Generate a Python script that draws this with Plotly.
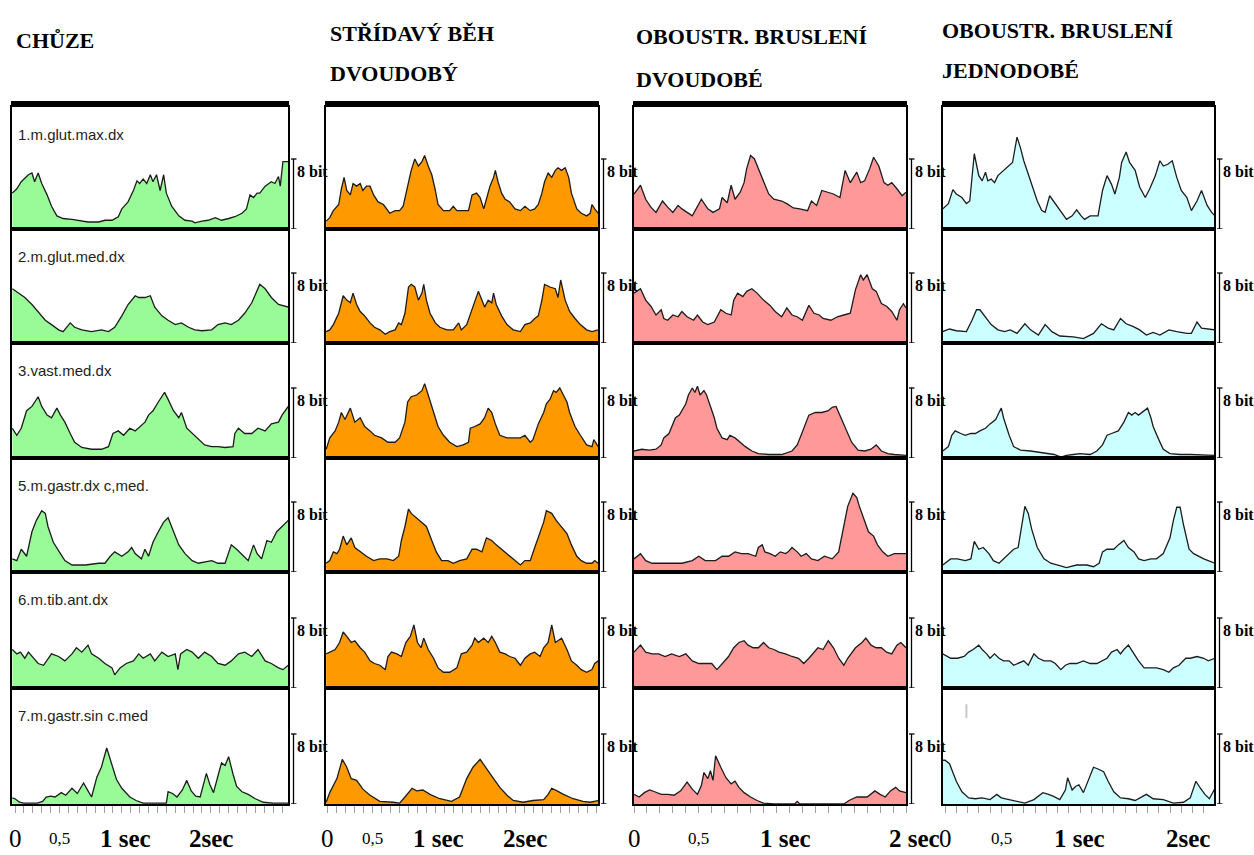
import plotly.graph_objects as go

# ---------------- text ----------------
col_titles = [["CHŮZE"], ["STŘÍDAVÝ BĚH", "DVOUDOBÝ"],
              ["OBOUSTR. BRUSLENÍ", "DVOUDOBÉ"], ["OBOUSTR. BRUSLENÍ", "JEDNODOBÉ"]]
muscles = ["1.m.glut.max.dx", "2.m.glut.med.dx", "3.vast.med.dx",
           "5.m.gastr.dx c,med.", "6.m.tib.ant.dx", "7.m.gastr.sin c.med"]
tick_vals = [0, 0.5, 1, 2]
tick_text = [["0", "0,5", "1 sec", "2sec"], ["0", "0,5", "1 sec", "2sec"],
             ["0", "0,5", "1 sec", "2 sec"], ["0", "0,5", "1 sec", "2sec"]]
scale_label = "8 bit"
scale_value = 8
fill_colors = ["#98fb98", "#ff9900", "#ff9999", "#ccffff"]

# ---------------- data: time [s] / amplitude [scale units, bar = 8] ----------------
# column 1: CHŮZE
walk_t1 = [-0.03,0.02,0.07,0.15,0.19,0.22,0.26,0.30,0.36,0.41,0.47,0.54,0.64,0.71,0.82,0.94,1.01,1.09,1.16,1.20,1.27,1.33,1.37,1.40,1.44,1.48,1.52,1.55,1.59,1.63,1.67,1.70,1.76,1.84,1.91,1.99,2.02,2.10,2.17,2.25,2.32,2.40,2.47,2.55,2.60,2.64,2.68,2.72,2.75,2.81,2.85,2.88,2.92,2.96,2.98,3.01,3.07]
walk_v1 = [4.1,4.6,5.4,6.2,6.4,5.4,6.4,5.2,3.9,2.6,1.5,1.2,1.1,1.0,0.8,0.8,1.0,1.0,1.4,2.3,3.1,4.4,5.5,5.2,5.7,5.2,6.2,5.4,6.2,4.4,6.2,4.1,2.6,1.5,1.0,0.9,0.7,0.9,1.0,1.3,1.0,1.2,1.4,1.8,2.3,3.9,3.6,4.1,4.1,4.9,5.2,5.4,5.2,6.0,4.9,7.7,7.7]
walk_t2 = [-0.03,0.04,0.11,0.19,0.26,0.34,0.41,0.49,0.54,0.62,0.67,0.75,0.86,0.97,1.05,1.12,1.20,1.27,1.35,1.39,1.46,1.52,1.57,1.65,1.72,1.80,1.87,1.95,2.02,2.10,2.21,2.28,2.36,2.43,2.51,2.58,2.66,2.72,2.75,2.81,2.88,2.96,3.07]
walk_v2 = [6.2,5.7,5.2,4.4,3.6,2.6,2.1,1.5,1.3,2.3,1.8,1.5,1.3,1.5,1.3,1.8,3.1,4.4,5.4,5.2,5.2,5.4,4.1,3.1,2.6,2.1,2.3,1.8,1.5,1.4,1.5,2.1,2.3,2.1,2.6,3.4,4.6,5.9,6.7,6.2,5.2,4.4,4.1]
walk_t3 = [-0.03,0.02,0.07,0.13,0.19,0.24,0.26,0.30,0.36,0.41,0.45,0.47,0.51,0.56,0.62,0.67,0.75,0.86,0.97,1.05,1.10,1.16,1.22,1.29,1.35,1.40,1.46,1.50,1.55,1.61,1.68,1.72,1.78,1.84,1.87,1.93,1.99,2.06,2.13,2.21,2.28,2.36,2.45,2.47,2.51,2.58,2.66,2.73,2.81,2.88,2.96,3.00,3.07]
walk_v3 = [3.4,2.6,3.4,5.4,5.9,6.7,7.0,5.9,4.9,4.6,5.4,5.7,4.9,4.1,2.8,1.8,1.2,1.0,1.0,1.3,2.8,3.1,2.6,3.4,3.1,3.6,4.1,4.9,5.4,6.4,7.5,6.7,5.4,4.6,5.2,3.4,2.8,2.1,1.5,1.3,1.3,1.2,1.3,2.8,3.4,2.8,2.8,3.4,3.1,3.9,4.1,4.9,5.9]
walk_t4 = [-0.03,0.02,0.07,0.13,0.19,0.24,0.30,0.34,0.37,0.43,0.51,0.56,0.64,0.79,0.94,1.01,1.07,1.12,1.20,1.27,1.31,1.35,1.42,1.46,1.50,1.55,1.61,1.67,1.72,1.78,1.84,1.91,1.99,2.06,2.21,2.28,2.36,2.43,2.49,2.57,2.62,2.68,2.72,2.77,2.83,2.88,2.94,3.00,3.07]
walk_v4 = [1.5,1.3,2.6,1.8,4.6,5.9,7.0,6.7,5.2,3.4,2.1,1.3,0.8,0.8,1.0,1.0,1.8,2.3,1.8,2.3,2.8,2.1,1.5,2.6,1.8,3.4,4.6,5.7,6.2,4.6,3.1,2.1,1.3,1.0,1.3,1.0,1.0,3.1,2.6,1.8,1.3,3.1,2.1,1.5,3.6,3.4,4.6,5.2,5.9]
walk_t5 = [-0.03,0.02,0.06,0.11,0.15,0.21,0.26,0.32,0.41,0.49,0.56,0.64,0.69,0.75,0.82,0.86,0.94,1.01,1.09,1.12,1.18,1.25,1.33,1.39,1.44,1.52,1.57,1.65,1.72,1.80,1.83,1.86,1.93,1.99,2.06,2.13,2.21,2.28,2.36,2.43,2.51,2.58,2.66,2.73,2.81,2.88,2.96,3.01,3.07]
walk_v5 = [4.4,3.9,4.1,3.4,4.1,3.4,2.8,2.6,3.9,3.6,3.1,3.9,4.6,4.1,4.9,3.9,3.4,2.8,2.3,1.5,2.3,2.8,3.1,3.9,3.4,3.9,3.1,4.1,3.6,3.9,2.1,3.9,4.4,4.1,3.4,4.1,3.6,2.8,2.6,3.1,3.9,4.1,3.6,4.4,3.1,2.8,2.3,2.1,2.6]
walk_t6 = [-0.03,0.00,0.05,0.10,0.25,0.31,0.35,0.40,0.45,0.52,0.57,0.64,0.70,0.77,0.82,0.86,0.92,0.97,1.03,1.08,1.14,1.20,1.29,1.36,1.44,1.70,1.72,1.77,1.82,1.88,1.93,1.98,2.03,2.08,2.15,2.19,2.23,2.28,2.32,2.36,2.40,2.45,2.49,2.55,2.62,2.70,2.79,2.90,3.07]
walk_v6 = [0.7,0.6,0.2,0.1,0.1,0.3,0.8,0.9,0.8,1.3,1.0,1.8,1.2,2.4,1.5,0.8,3.1,4.2,6.4,4.8,2.8,1.8,0.8,0.4,0.1,0.1,1.4,1.2,0.8,1.6,2.7,1.5,0.9,0.8,3.5,2.2,1.3,3.2,4.7,4.4,5.4,3.4,2.0,1.4,1.1,0.6,0.2,0.1,0.1]

# column 2: STŘÍDAVÝ BĚH DVOUDOBÝ
run_t1 = [-0.02,0.02,0.06,0.12,0.15,0.18,0.21,0.25,0.28,0.32,0.36,0.39,0.43,0.47,0.51,0.56,0.62,0.69,0.75,0.80,0.84,0.88,0.91,0.93,0.97,1.01,1.05,1.08,1.12,1.16,1.20,1.23,1.29,1.36,1.40,1.44,1.51,1.57,1.61,1.66,1.70,1.74,1.77,1.81,1.85,1.87,1.90,1.94,1.98,2.03,2.09,2.15,2.20,2.26,2.31,2.35,2.39,2.42,2.46,2.50,2.54,2.57,2.61,2.65,2.69,2.72,2.78,2.83,2.89,2.93,2.95,2.98,3.02]
run_v1 = [0.9,1.3,2.1,2.8,4.6,5.9,4.4,3.9,5.2,4.9,5.2,4.4,4.9,4.9,3.9,3.1,2.8,1.8,2.1,2.1,2.6,4.6,5.9,6.7,8.0,7.2,7.7,8.4,7.2,6.2,4.4,2.8,2.1,2.1,2.6,2.1,2.1,2.1,3.9,4.1,3.6,2.3,3.4,4.9,5.9,6.7,5.4,4.1,3.4,3.1,2.3,2.1,2.6,2.1,2.3,2.8,4.1,5.4,6.4,5.9,6.7,7.0,6.7,7.0,5.9,4.1,2.3,1.8,1.5,1.8,2.8,2.3,1.8]
run_t2 = [-0.02,0.02,0.06,0.12,0.17,0.21,0.25,0.28,0.32,0.36,0.41,0.47,0.52,0.58,0.64,0.69,0.75,0.79,0.82,0.86,0.90,0.93,0.97,1.01,1.05,1.07,1.10,1.14,1.20,1.25,1.33,1.40,1.46,1.49,1.55,1.61,1.64,1.68,1.72,1.75,1.79,1.83,1.85,1.88,1.94,2.00,2.07,2.15,2.20,2.26,2.31,2.35,2.39,2.42,2.48,2.54,2.57,2.60,2.65,2.70,2.76,2.82,2.89,2.95,3.02]
run_v2 = [1.3,1.5,2.1,3.4,5.4,4.9,4.6,5.7,4.4,3.6,3.1,2.3,1.8,1.5,1.0,1.3,1.5,2.3,2.1,3.4,6.4,6.7,6.4,4.9,5.7,6.7,4.9,3.4,2.3,1.8,1.5,1.5,2.3,1.5,2.1,3.9,4.6,5.9,4.9,4.1,4.9,4.6,5.7,4.4,3.1,2.1,1.5,1.3,2.1,2.3,2.8,3.1,4.9,6.7,6.4,6.2,5.2,7.2,4.9,3.6,2.8,2.1,1.5,1.3,1.5]
run_t3 = [-0.02,0.02,0.08,0.12,0.15,0.19,0.25,0.30,0.36,0.41,0.47,0.52,0.60,0.67,0.75,0.80,0.86,0.89,0.93,0.99,1.05,1.08,1.12,1.18,1.23,1.29,1.36,1.44,1.51,1.57,1.59,1.64,1.70,1.75,1.79,1.83,1.87,1.92,2.00,2.07,2.15,2.20,2.26,2.29,2.35,2.41,2.44,2.48,2.52,2.55,2.59,2.63,2.67,2.70,2.76,2.82,2.89,2.95,2.97,3.02]
run_v3 = [1.0,2.3,3.1,4.1,5.2,4.4,5.7,4.1,4.6,3.6,3.1,2.6,2.3,1.8,1.8,2.3,4.1,6.4,7.0,7.2,7.7,8.5,7.2,5.2,3.6,2.6,1.8,1.3,1.5,1.8,3.4,3.6,3.9,4.6,5.7,5.2,3.9,2.6,2.3,2.3,2.3,2.6,1.8,2.1,3.9,5.2,6.2,6.7,7.7,7.5,8.0,7.2,6.4,5.2,3.6,2.6,1.5,1.3,2.1,1.3]
run_t4 = [-0.02,0.02,0.06,0.10,0.13,0.17,0.21,0.26,0.30,0.36,0.43,0.51,0.58,0.66,0.73,0.79,0.82,0.86,0.90,0.93,0.99,1.05,1.10,1.16,1.21,1.27,1.34,1.40,1.47,1.55,1.61,1.66,1.72,1.77,1.83,1.88,1.94,2.00,2.07,2.15,2.20,2.26,2.31,2.37,2.41,2.44,2.50,2.55,2.61,2.67,2.72,2.78,2.83,2.89,2.95,2.98,3.02]
run_v4 = [1.0,1.3,2.3,2.1,2.6,4.1,3.1,3.9,2.8,2.3,1.8,1.3,1.5,1.5,1.3,1.8,3.6,5.2,7.2,6.7,6.2,5.7,5.2,3.6,2.3,1.3,1.3,1.0,1.3,1.5,2.6,2.6,2.3,3.9,3.6,3.1,2.6,2.1,1.5,0.8,1.3,1.3,2.8,4.4,5.7,7.0,6.7,5.9,5.2,4.4,3.1,1.8,1.3,1.0,1.0,1.3,1.0]
run_t5 = [-0.02,0.02,0.08,0.13,0.17,0.21,0.26,0.30,0.36,0.41,0.47,0.52,0.58,0.64,0.67,0.71,0.77,0.82,0.87,0.92,0.96,1.00,1.04,1.07,1.12,1.18,1.23,1.29,1.36,1.44,1.49,1.55,1.61,1.64,1.68,1.74,1.79,1.83,1.87,1.92,1.98,2.03,2.09,2.15,2.20,2.26,2.31,2.37,2.41,2.46,2.50,2.54,2.57,2.61,2.67,2.72,2.78,2.83,2.89,2.95,2.98,3.02]
run_v5 = [3.9,4.1,4.4,5.2,6.4,5.9,5.2,5.4,4.6,4.1,3.1,2.8,2.6,2.1,3.6,4.1,3.9,3.6,5.2,5.9,7.2,5.2,4.6,5.7,4.4,3.4,2.3,1.8,1.8,2.3,3.9,4.1,4.9,5.7,5.2,5.7,5.2,5.9,5.2,4.1,3.9,3.6,3.4,2.6,3.4,3.9,4.1,3.6,4.6,5.2,7.2,5.2,5.4,5.7,4.4,3.1,2.6,2.1,1.8,2.1,2.8,3.1]
run_t6 = [-0.02,0.02,0.10,0.16,0.21,0.26,0.32,0.39,0.47,0.58,0.73,0.80,0.86,0.94,0.99,1.06,1.14,1.25,1.38,1.47,1.55,1.62,1.70,1.77,1.85,1.92,2.00,2.07,2.18,2.29,2.41,2.46,2.50,2.56,2.63,2.74,2.85,2.93,3.02]
run_v6 = [0.2,1.3,2.9,5.1,4.2,2.9,2.7,1.7,1.0,0.3,0.2,0.1,0.8,1.8,1.5,1.6,1.1,0.6,0.3,0.8,2.9,4.2,5.1,4.0,2.9,1.9,1.0,0.4,0.2,0.4,0.5,1.1,1.8,1.5,1.1,0.6,0.3,0.2,0.4]

# column 3: OBOUSTR. BRUSLENÍ DVOUDOBÉ
sk2_t1 = [0.0,0.05,0.09,0.13,0.17,0.22,0.26,0.30,0.34,0.37,0.41,0.45,0.52,0.57,0.61,0.66,0.68,0.72,0.75,0.78,0.82,0.85,0.87,0.90,0.93,0.96,1.00,1.04,1.08,1.14,1.18,1.23,1.28,1.34,1.37,1.41,1.45,1.49,1.54,1.59,1.63,1.67,1.72,1.75,1.78,1.82,1.85,1.89,1.93,1.96,1.99,2.03,2.07,2.10]
sk2_v1 = [4.0,5.0,3.4,2.5,1.9,3.2,2.5,1.9,2.7,2.3,1.9,1.5,3.4,2.3,1.9,2.3,3.6,3.0,5.0,3.4,4.2,5.3,6.9,8.4,8.0,6.9,5.3,4.0,3.4,3.2,2.9,2.4,2.3,2.1,3.2,2.7,4.4,4.2,4.0,3.6,6.7,5.3,6.5,5.3,5.5,6.9,8.2,7.2,5.3,5.0,5.3,4.6,3.8,4.2]
sk2_t2 = [0.0,0.05,0.09,0.13,0.17,0.21,0.23,0.26,0.30,0.34,0.37,0.41,0.46,0.49,0.53,0.57,0.62,0.67,0.71,0.75,0.77,0.80,0.84,0.87,0.91,0.95,1.00,1.05,1.09,1.14,1.18,1.22,1.26,1.30,1.35,1.39,1.43,1.46,1.52,1.57,1.62,1.67,1.71,1.75,1.77,1.80,1.84,1.87,1.91,1.95,1.99,2.03,2.05,2.08,2.10]
sk2_v2 = [5.7,6.2,4.9,4.2,3.2,3.8,2.8,2.6,3.2,3.0,3.6,3.0,2.6,3.2,2.4,2.1,2.4,3.8,3.4,3.2,4.9,5.7,5.3,5.9,6.2,5.7,4.9,4.3,3.6,3.0,4.0,3.2,3.0,2.6,4.3,3.4,3.2,2.8,2.6,3.0,3.2,3.4,6.1,7.8,7.2,7.8,6.2,5.9,4.5,4.2,3.6,2.6,3.8,4.5,4.0]
sk2_t3 = [0.0,0.06,0.12,0.17,0.21,0.23,0.27,0.29,0.32,0.35,0.37,0.40,0.42,0.45,0.47,0.49,0.51,0.54,0.56,0.59,0.62,0.64,0.68,0.72,0.74,0.78,0.82,0.86,0.91,0.96,1.04,1.14,1.22,1.26,1.29,1.35,1.40,1.45,1.50,1.53,1.56,1.60,1.64,1.68,1.73,1.78,1.83,1.87,1.91,1.96,2.01,2.10]
sk2_v3 = [0.8,1.0,0.9,1.0,1.5,2.3,2.8,3.6,4.6,4.9,5.4,6.2,7.2,8.0,7.5,8.2,7.2,7.7,7.2,5.9,4.6,3.4,2.3,2.1,2.6,2.3,1.8,1.3,0.8,0.5,0.4,0.4,0.8,1.5,2.6,4.9,5.2,5.2,5.4,5.8,5.9,4.6,3.1,1.8,0.9,0.8,1.0,1.5,0.8,0.5,0.4,0.3]
sk2_t4 = [0.0,0.05,0.09,0.14,0.22,0.29,0.37,0.45,0.50,0.55,0.63,0.68,0.73,0.78,0.83,0.88,0.94,0.96,0.99,1.01,1.05,1.09,1.13,1.17,1.19,1.22,1.26,1.29,1.33,1.37,1.42,1.47,1.53,1.58,1.62,1.65,1.69,1.72,1.74,1.77,1.81,1.85,1.88,1.92,1.96,2.01,2.05,2.10]
sk2_v4 = [1.5,2.1,1.3,1.0,1.0,1.0,1.0,1.3,1.8,1.3,1.3,1.8,1.8,2.3,2.1,2.1,1.8,2.8,3.1,2.3,2.1,1.8,2.3,2.1,2.3,2.8,2.3,1.8,2.1,1.5,1.3,1.8,1.5,2.3,5.4,7.5,9.0,8.5,7.5,6.2,4.6,4.1,3.1,2.3,1.8,2.1,2.1,2.1]
sk2_t5 = [0.0,0.05,0.09,0.14,0.19,0.24,0.29,0.35,0.40,0.45,0.50,0.55,0.60,0.64,0.68,0.73,0.77,0.81,0.85,0.88,0.92,0.96,1.00,1.04,1.08,1.12,1.17,1.22,1.27,1.31,1.35,1.38,1.42,1.46,1.50,1.54,1.58,1.62,1.65,1.71,1.76,1.79,1.83,1.87,1.91,1.95,1.99,2.03,2.06,2.10]
sk2_v5 = [4.1,4.9,4.1,3.9,3.9,3.6,3.9,3.6,3.9,3.1,2.8,2.8,2.8,2.1,2.8,3.6,4.6,5.2,5.4,4.9,4.6,4.6,5.2,4.6,4.4,4.1,3.9,3.6,3.4,2.8,3.4,3.9,4.6,4.4,5.4,4.6,3.4,2.6,3.4,4.6,5.2,5.7,4.9,4.6,4.6,4.1,3.9,4.9,5.2,4.6]
sk2_t6 = [0.0,0.04,0.08,0.12,0.16,0.21,0.26,0.31,0.36,0.41,0.45,0.49,0.52,0.54,0.57,0.59,0.61,0.63,0.67,0.71,0.75,0.78,0.81,0.85,0.90,0.95,1.00,1.08,1.24,1.26,1.28,1.62,1.66,1.72,1.80,1.86,1.90,1.94,1.98,2.02,2.05,2.10]
sk2_v6 = [1.1,0.8,1.3,1.6,1.4,1.1,1.1,1.0,1.5,2.5,1.7,1.1,2.1,3.6,2.9,3.8,2.7,5.5,4.2,3.0,2.3,2.6,1.9,1.3,0.8,0.4,0.1,0.0,0.0,0.3,0.0,0.0,0.4,0.8,0.8,1.5,1.1,0.8,1.5,1.9,1.5,1.3]

# column 4: OBOUSTR. BRUSLENÍ JEDNODOBÉ
sk1_t1 = [-0.02,0.03,0.07,0.10,0.15,0.19,0.22,0.26,0.30,0.33,0.36,0.38,0.41,0.44,0.47,0.52,0.56,0.60,0.64,0.67,0.70,0.73,0.77,0.82,0.86,0.89,0.93,0.98,1.02,1.08,1.13,1.17,1.21,1.24,1.29,1.36,1.40,1.44,1.48,1.51,1.55,1.57,1.61,1.64,1.69,1.73,1.78,1.82,1.87,1.91,1.94,1.98,2.02,2.06,2.10,2.15,2.19,2.24,2.28,2.33,2.37,2.40]
sk1_v1 = [2.3,2.9,4.5,4.0,3.6,2.9,3.2,8.6,6.1,5.5,6.5,5.5,5.7,5.3,6.1,6.7,7.2,7.6,10.5,9.3,7.8,6.7,5.1,3.2,2.1,1.9,3.8,2.9,2.1,1.1,1.5,2.2,1.5,1.1,1.5,1.5,4.4,6.1,5.1,4.0,5.9,7.6,8.8,7.6,6.7,4.8,3.6,4.6,6.1,7.8,7.2,7.4,7.8,5.9,4.4,3.6,2.1,3.2,4.4,2.7,1.9,1.5]
sk1_t2 = [-0.02,0.04,0.10,0.19,0.24,0.28,0.31,0.36,0.41,0.47,0.53,0.58,0.64,0.71,0.76,0.83,0.89,0.95,1.02,1.14,1.23,1.32,1.39,1.45,1.50,1.56,1.61,1.67,1.73,1.79,1.85,1.91,1.99,2.06,2.15,2.19,2.24,2.28,2.34,2.40]
sk1_v2 = [1.3,1.6,1.4,1.3,2.6,3.8,3.8,3.0,2.1,1.5,1.3,1.5,1.1,2.2,1.5,0.9,2.1,1.3,0.8,0.7,0.5,1.1,2.2,1.7,1.5,2.8,2.2,1.9,1.5,0.9,1.2,0.9,1.5,1.3,1.1,1.1,2.4,1.7,1.6,1.5]
sk1_t3 = [-0.02,0.03,0.06,0.09,0.14,0.18,0.23,0.27,0.31,0.36,0.40,0.45,0.48,0.50,0.52,0.57,0.61,0.67,0.76,0.88,0.97,1.03,1.08,1.14,1.20,1.29,1.35,1.40,1.44,1.48,1.54,1.59,1.63,1.66,1.69,1.72,1.75,1.80,1.83,1.85,1.90,1.94,2.00,2.09,2.18,2.30,2.40]
sk1_v3 = [0.8,1.3,2.6,3.1,2.8,2.6,2.8,2.8,3.1,3.4,3.9,4.4,5.2,5.7,4.6,2.6,1.3,0.9,0.8,0.6,0.4,0.1,0.3,0.4,0.5,0.4,0.8,1.5,2.6,2.8,3.1,4.1,5.2,4.9,5.2,4.9,5.2,5.7,4.6,3.6,2.1,1.0,0.5,0.4,0.4,0.3,0.3]
sk1_t4 = [-0.02,0.05,0.11,0.18,0.23,0.26,0.30,0.34,0.39,0.43,0.48,0.52,0.57,0.61,0.65,0.68,0.71,0.74,0.77,0.82,0.88,0.94,1.00,1.08,1.17,1.26,1.32,1.37,1.40,1.44,1.50,1.54,1.59,1.63,1.68,1.72,1.77,1.83,1.88,1.94,2.00,2.03,2.06,2.09,2.12,2.17,2.21,2.25,2.30,2.34,2.40]
sk1_v4 = [0.8,1.5,1.5,1.3,1.5,3.5,2.6,2.8,2.1,1.3,1.0,1.5,2.1,2.6,2.8,5.4,7.5,6.7,4.9,2.8,1.5,1.0,0.8,0.5,0.8,0.8,0.6,1.0,2.3,2.6,2.6,3.1,3.6,2.8,2.3,1.5,1.3,1.5,1.5,2.1,3.9,5.9,7.4,7.4,5.4,2.6,2.1,1.8,1.5,1.3,1.0]
sk1_t5 = [-0.02,0.05,0.11,0.17,0.21,0.25,0.30,0.33,0.37,0.40,0.44,0.48,0.52,0.57,0.61,0.65,0.70,0.74,0.79,0.83,0.88,0.94,0.98,1.03,1.07,1.11,1.17,1.23,1.29,1.35,1.40,1.44,1.48,1.53,1.56,1.59,1.63,1.68,1.72,1.77,1.83,1.88,1.94,1.99,2.03,2.08,2.14,2.18,2.24,2.30,2.34,2.40]
sk1_v5 = [3.9,3.4,3.4,3.6,4.1,4.4,4.9,4.4,3.9,3.4,3.9,3.4,3.1,3.1,2.6,2.8,3.1,2.6,3.9,3.4,3.1,3.1,2.8,2.1,2.6,2.8,2.8,3.1,2.8,2.8,3.1,3.4,4.1,4.4,3.9,4.4,4.9,3.9,3.1,2.3,2.3,2.3,2.1,1.8,2.3,2.6,3.4,3.4,3.6,3.4,3.1,3.4]
sk1_t6 = [-0.02,0.00,0.04,0.07,0.10,0.15,0.21,0.27,0.33,0.40,0.46,0.50,0.58,0.67,0.71,0.79,0.87,0.92,0.96,1.02,1.07,1.09,1.13,1.16,1.19,1.23,1.27,1.32,1.36,1.41,1.45,1.50,1.56,1.63,1.69,1.75,1.79,1.85,1.94,2.03,2.12,2.18,2.23,2.27,2.31,2.35,2.40]
sk1_v6 = [5.0,5.0,4.6,3.7,2.6,1.4,0.7,0.6,0.7,0.5,1.1,0.7,0.5,0.2,0.1,0.5,1.3,1.1,0.9,0.5,1.6,3.0,1.6,2.0,2.2,1.3,2.6,4.2,4.0,3.7,2.6,1.4,0.7,0.6,0.4,0.8,1.1,0.6,0.5,0.1,0.2,0.7,2.6,1.8,1.1,0.6,1.8]

series = [
    [(walk_t1, walk_v1), (run_t1, run_v1), (sk2_t1, sk2_v1), (sk1_t1, sk1_v1)],
    [(walk_t2, walk_v2), (run_t2, run_v2), (sk2_t2, sk2_v2), (sk1_t2, sk1_v2)],
    [(walk_t3, walk_v3), (run_t3, run_v3), (sk2_t3, sk2_v3), (sk1_t3, sk1_v3)],
    [(walk_t4, walk_v4), (run_t4, run_v4), (sk2_t4, sk2_v4), (sk1_t4, sk1_v4)],
    [(walk_t5, walk_v5), (run_t5, run_v5), (sk2_t5, sk2_v5), (sk1_t5, sk1_v5)],
    [(walk_t6, walk_v6), (run_t6, run_v6), (sk2_t6, sk2_v6), (sk1_t6, sk1_v6)],
]

# ---------------- layout geometry (pixels) ----------------
W, H = 1254, 855
col_px = [(12, 288), (326, 598), (634, 906), (943, 1214)]
row_px = [(107, 229), (229, 343), (343, 458), (458, 572), (572, 688), (688, 804)]
x_ranges = [(-0.034, 3.067), (-0.022, 3.017), (0.0, 2.1), (-0.018, 2.391)]
PX_PER_UNIT = 8.75

SERIF = "Liberation Serif, Times New Roman, serif"
SANS = "Liberation Sans, Arial, sans-serif"

fig = go.Figure()
layout = dict(width=W, height=H, margin=dict(l=0, r=0, t=0, b=0),
              paper_bgcolor="white", plot_bgcolor="white", showlegend=False)
shapes, annots = [], []

for r in range(6):
    ytop, ybot = row_px[r]
    for c in range(4):
        k = r * 4 + c + 1
        sfx = "" if k == 1 else str(k)
        xa, ya = "x" + sfx, "y" + sfx
        xl, xr = col_px[c]
        pw = xr - xl
        t, v = series[r][c]
        n = min(len(t), len(v))
        fig.add_trace(go.Scatter(
            x=t[:n], y=v[:n], xaxis=xa, yaxis=ya, mode="lines",
            line=dict(color="#1c1c1c", width=1.3), fill="tozeroy",
            fillcolor=fill_colors[c], hoverinfo="skip"))
        bottom = (r == 5)
        layout["xaxis" + sfx] = dict(
            domain=[xl / W, xr / W], range=list(x_ranges[c]), anchor=ya,
            showgrid=False, zeroline=False, showline=True, mirror=True,
            linecolor="black", linewidth=2,
            ticks="outside" if bottom else "", tick0=0, dtick=0.1,
            ticklen=7, tickwidth=1, tickcolor="#a0a0a0", showticklabels=False)
        layout["yaxis" + sfx] = dict(
            domain=[1 - ybot / H, 1 - ytop / H],
            range=[0, (ybot - ytop) / PX_PER_UNIT], anchor=xa,
            showgrid=False, zeroline=False, showline=True, mirror=True,
            linecolor="black", linewidth=2, ticks="", showticklabels=False)
        # "8 bit" scale bar to the right of each panel
        bx = 1 + 5.5 / pw
        shapes.append(dict(type="line", xref=f"{xa} domain", yref=ya,
                           x0=bx, x1=bx, y0=0, y1=scale_value,
                           line=dict(color="black", width=1.3)))
        for yy in (0, scale_value):
            shapes.append(dict(type="line", xref=f"{xa} domain", yref=ya,
                               x0=1 + 3 / pw, x1=1 + 8.5 / pw, y0=yy, y1=yy,
                               line=dict(color="black", width=1.3)))
        annots.append(dict(text=f"<b>{scale_label}</b>", xref=f"{xa} domain", yref=ya,
                           x=1 + 7 / pw, y=scale_value - 12 / PX_PER_UNIT,
                           xanchor="left", yanchor="middle", showarrow=False,
                           font=dict(family=SERIF, size=16, color="black")))
        if c == 0:
            h = ybot - ytop
            annots.append(dict(text=muscles[r], xref=f"{xa} domain", yref=f"{ya} domain",
                               x=4 / pw, y=1 - 27 / h, xanchor="left", yanchor="middle",
                               showarrow=False,
                               font=dict(family=SANS, size=15, color="#1e1e1e")))
        if bottom:
            for tv, tt in zip(tick_vals, tick_text[c]):
                is_sec = "sec" in tt
                small = (tt == "0,5")
                annots.append(dict(
                    text=f"<b>{tt}</b>" if is_sec else tt, xref=xa, yref="paper",
                    x=tv, y=1 - 838 / H,
                    xanchor="left" if is_sec else "center", yanchor="middle",
                    xshift=-6 if is_sec else 0, showarrow=False,
                    font=dict(family=SERIF, size=17 if small else 25, color="black")))

# thick top border of each column
for xl, xr in col_px:
    shapes.append(dict(type="rect", xref="paper", yref="paper",
                       x0=(xl - 1) / W, x1=(xr + 1) / W, y0=1 - 107 / H, y1=1 - 101 / H,
                       fillcolor="black", line=dict(width=0)))

# small grey mark in the last panel
shapes.append(dict(type="line", xref="x24", yref="y24 domain", x0=0.19, x1=0.19,
                   y0=0.74, y1=0.86, line=dict(color="#c8c8c8", width=2)))

# column titles
title_pos = [[(14, 40)], [(328, 34), (328, 74)], [(634, 36), (634, 79)], [(940, 30), (940, 71)]]
for c in range(4):
    for line_txt, (px, py) in zip(col_titles[c], title_pos[c]):
        annots.append(dict(text=f"<b>{line_txt}</b>", xref="paper", yref="paper",
                           x=px / W, y=1 - py / H, xanchor="left", yanchor="middle",
                           showarrow=False,
                           font=dict(family=SERIF, size=22, color="black")))

layout["shapes"] = shapes
layout["annotations"] = annots
fig.update_layout(**layout)
fig.write_html("out.html", config={"displayModeBar": False},
               post_script="document.body.style.margin='0';document.body.style.padding='0';")
